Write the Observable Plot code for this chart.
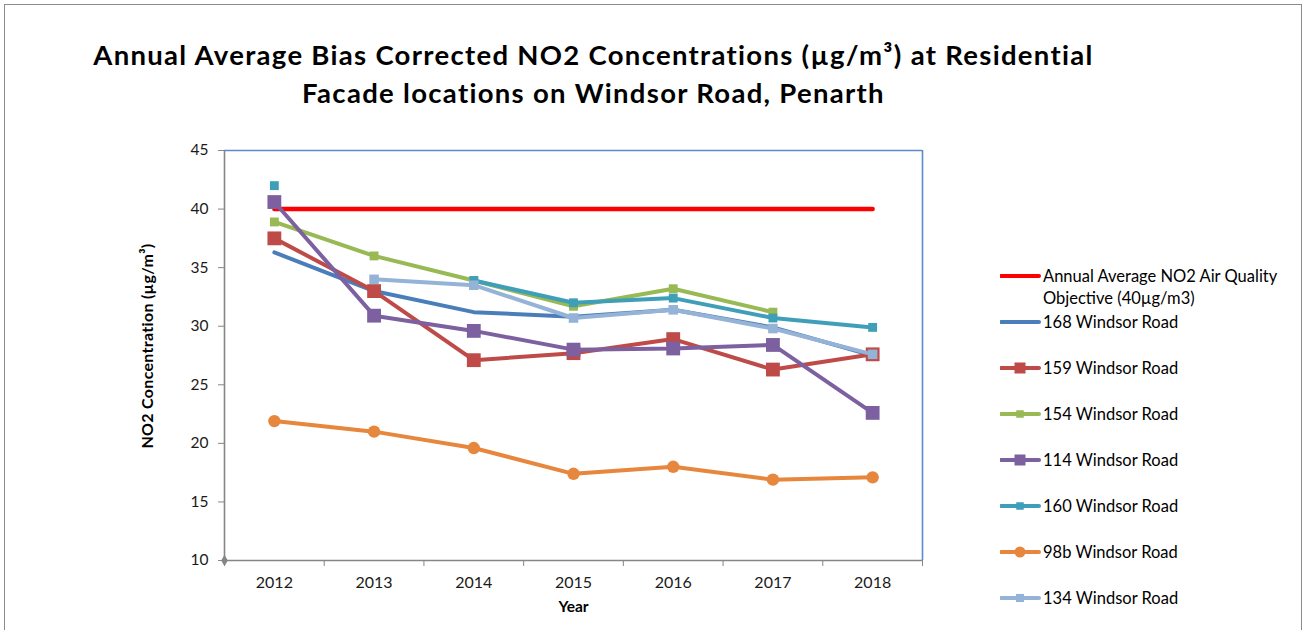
<!DOCTYPE html>
<html>
<head>
<meta charset="utf-8">
<script src="https://cdn.jsdelivr.net/npm/d3@7"></script>
<script src="https://cdn.jsdelivr.net/npm/@observablehq/plot@0.6"></script>
<style>
  html, body { margin: 0; padding: 0; background: #fff; }
  #wrap { position: relative; width: 1306px; height: 630px; overflow: hidden; font-family: Lato, "Open Sans", sans-serif; color: #000; }
  #border { position: absolute; left: 4px; top: 4px; width: 1298px; height: 640px; border: 1.5px solid #8c8c8c; box-sizing: border-box; }
  #title { position: absolute; top: 36px; left: 0; width: 1187px; text-align: center; font-weight: bold; font-size: 27.5px; letter-spacing: 1.3px; line-height: 38px; }
  #chart { position: absolute; left: 0; top: 140px; }
  #ylabel { position: absolute; left: 146px; top: 346px; transform: translate(-50%, -50%) rotate(-90deg); font-weight: bold; font-size: 16px; letter-spacing: 0.3px; white-space: nowrap; }
  .leg { position: absolute; left: 1000px; font-size: 16.5px; line-height: 22px; color: #000; }
  .leg svg { position: absolute; left: 0; top: 0; }
  .leg span { position: absolute; left: 43px; white-space: nowrap; }
</style>
</head>
<body>
<div id="wrap">
  <div id="border"></div>
  <div id="title">Annual Average Bias Corrected NO2 Concentrations (µg/m³) at Residential<br>Facade locations on Windsor Road, Penarth</div>
  <div id="chart"></div>
  <div id="ylabel"></div>
  <div id="legend"></div>
</div>
<script>
// ---- Data ----
const years = [2012, 2013, 2014, 2015, 2016, 2017, 2018];
const yTicks = [10, 15, 20, 25, 30, 35, 40, 45];
const objective = [40, 40, 40, 40, 40, 40, 40];
const s168 = [36.3, 33.0, 31.2, 30.8, 31.4, 29.9, 27.5];
const s159 = [37.5, 33.0, 27.1, 27.7, 28.9, 26.3, 27.6];
const s154 = [38.9, 36.0, 33.9, 31.7, 33.2, 31.2, null];
const s114 = [40.6, 30.9, 29.6, 28.0, 28.1, 28.4, 22.6];
const s160 = [42.0, null, 33.9, 32.0, 32.4, 30.7, 29.9];
const s98b = [21.9, 21.0, 19.6, 17.4, 18.0, 16.9, 17.1];
const s134 = [null, 34.0, 33.5, 30.7, 31.4, 29.8, 27.6];

const objectiveLines = ["Annual Average NO2 Air Quality", "Objective (40µg/m3)"];
const seriesNames = ["168 Windsor Road", "159 Windsor Road", "154 Windsor Road", "114 Windsor Road", "160 Windsor Road", "98b Windsor Road", "134 Windsor Road"];
const seriesValues = [s168, s159, s154, s114, s160, s98b, s134];
const seriesColors = ["#4a7ebb", "#be4b48", "#98b954", "#7d60a0", "#3f9fb9", "#e6873d", "#95b3d7"];
const seriesSymbols = [null, "square", "square", "square", "square", "circle", "square"];
const seriesR = [0, 7.8, 5.0, 7.8, 5.0, 6.2, 5.4];

const yLabel = "NO2 Concentration (µg/m³)";
const xLabel = "Year";

// ---- Chart ----
const bounds = years.map(y => y - 0.5).concat([years[years.length - 1] + 0.5]);
const fontFam = "Lato, 'Open Sans', sans-serif";

const marks = [
  Plot.ruleY([45], {stroke: "#5b8bc9", strokeWidth: 1.6}),
  Plot.ruleX([bounds[bounds.length - 1]], {stroke: "#5b8bc9", strokeWidth: 1.6}),
  Plot.axisY(yTicks, {tickSize: 6, tickPadding: 10, stroke: "#868686", fill: "#1a1a1a", fontSize: 15.5, label: null, tickFormat: d => String(d)}),
  Plot.axisX(bounds, {tickSize: 6, stroke: "#868686", tickFormat: () => "", label: null}),
  Plot.axisX(years, {tickSize: 0, tickPadding: 16, fill: "#1a1a1a", fontSize: 16, label: null, tickFormat: d => String(d)}),
  Plot.ruleX([bounds[0]], {stroke: "#868686", strokeWidth: 1.6}),
  Plot.ruleY([10], {stroke: "#868686", strokeWidth: 1.6}),
  Plot.dot([bounds[0]], {x: d => d, y: yTicks[0], symbol: "diamond", r: 3.5, fill: "#868686"}),
  Plot.line(years, {x: years, y: objective, stroke: "#ff0000", strokeWidth: 4.5})
];
seriesValues.forEach((vals, i) => {
  marks.push(Plot.line(years, {x: years, y: vals, stroke: seriesColors[i], strokeWidth: 4, strokeLinejoin: "round", strokeLinecap: "round"}));
  if (seriesSymbols[i]) {
    marks.push(Plot.dot(years, {x: years, y: vals, symbol: seriesSymbols[i], r: seriesR[i], fill: seriesColors[i]}));
  }
});
marks.push(Plot.text([xLabel], {frameAnchor: "bottom", dy: 51, fontWeight: "bold", fontSize: 15.5, fill: "#000"}));

const chart = Plot.plot({
  width: 1306,
  height: 490,
  marginTop: 10,
  marginBottom: 70,
  marginLeft: 224,
  marginRight: 384,
  style: {fontFamily: fontFam, background: "transparent", overflow: "visible"},
  x: {type: "linear", domain: [bounds[0], bounds[bounds.length - 1]], axis: null},
  y: {domain: [10, 45], axis: null},
  marks
});
document.getElementById("chart").appendChild(chart);
document.getElementById("ylabel").textContent = yLabel;

// ---- Legend ----
const legend = document.getElementById("legend");
const legendItems = [{lines: objectiveLines, color: "#ff0000", symbol: null, r: 0, top: 265}]
  .concat(seriesNames.map((n, i) => ({lines: [n], color: seriesColors[i], symbol: seriesSymbols[i], r: seriesR[i], top: 311 + i * 46})));
legendItems.forEach(it => {
  const d = document.createElement("div");
  d.className = "leg";
  d.style.top = it.top + "px";
  let mk = "";
  if (it.symbol === "square") {
    const s = Math.min(it.r * 1.5, 11);
    mk = `<rect x="${20 - s / 2}" y="${11 - s / 2}" width="${s}" height="${s}" fill="${it.color}"/>`;
  } else if (it.symbol === "circle") {
    mk = `<circle cx="20" cy="11" r="5.5" fill="${it.color}"/>`;
  }
  d.innerHTML = `<svg width="42" height="22"><line x1="1" x2="39" y1="11" y2="11" stroke="${it.color}" stroke-width="4" stroke-linecap="round"/>${mk}</svg>` +
    it.lines.map((t, k) => `<span style="top:${k * 22}px">${t}</span>`).join("");
  legend.appendChild(d);
});
</script>
</body>
</html>
